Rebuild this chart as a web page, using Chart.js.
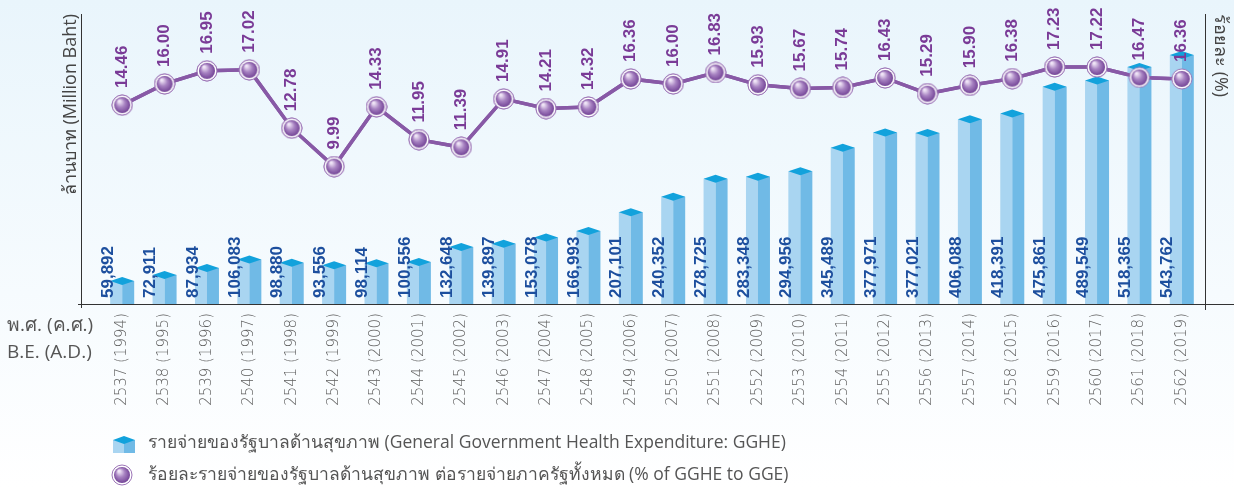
<!DOCTYPE html>
<html lang="th">
<head>
<meta charset="utf-8">
<title>GGHE</title>
<script src="https://cdn.jsdelivr.net/npm/chart.js@4.4.1/dist/chart.umd.min.js"></script>
<style>
    html, body { margin: 0; padding: 0; }
    body {
        width: 1234px;
        height: 487px;
        overflow: hidden;
        background: linear-gradient(to bottom, #e9f5fc 0%, #f6fbfe 60%, #ffffff 100%);
    }
    #wrap { width: 1234px; height: 487px; }
</style>
</head>
<body>
<div id="wrap"><canvas id="gghe" width="1234" height="487"></canvas></div>
<script>
// Datos
const categories = [
    '2537 (1994)', '2538 (1995)', '2539 (1996)', '2540 (1997)', '2541 (1998)', '2542 (1999)',
    '2543 (2000)', '2544 (2001)', '2545 (2002)', '2546 (2003)', '2547 (2004)', '2548 (2005)',
    '2549 (2006)', '2550 (2007)', '2551 (2008)', '2552 (2009)', '2553 (2010)', '2554 (2011)',
    '2555 (2012)', '2556 (2013)', '2557 (2014)', '2558 (2015)', '2559 (2016)', '2560 (2017)',
    '2561 (2018)', '2562 (2019)'
];
const gghe = [
    59892, 72911, 87934, 106083, 98880, 93556, 98114, 100556, 132648, 139897, 153078, 166993,
    207101, 240352, 278725, 283348, 294956, 345489, 377971, 377021, 406088, 418391, 475861,
    489549, 518365, 543762
];
const ggheShare = [
    14.46, 16.00, 16.95, 17.02, 12.78, 9.99, 14.33, 11.95, 11.39, 14.91, 14.21, 14.32,
    16.36, 16.00, 16.83, 15.93, 15.67, 15.74, 16.43, 15.29, 15.90, 16.38, 17.23, 17.22,
    16.47, 16.36
];
const legendLabels = [
    'รายจ่ายของรัฐบาลด้านสุขภาพ (General Government Health Expenditure: GGHE)',
    'ร้อยละรายจ่ายของรัฐบาลด้านสุขภาพ ต่อรายจ่ายภาครัฐทั้งหมด (% of GGHE to GGE)'
];
const leftTitle = 'ล้านบาท (Million Baht)';
const rightTitle = 'ร้อยละ (%)';
const axisCaption = ['พ.ศ. (ค.ศ.)', 'B.E. (A.D.)'];

const FONT = "'Open Sans', 'Noto Sans', 'DejaVu Sans', sans-serif";
const NUM_FONT = "'Liberation Sans', Arial, sans-serif";

const BAR_W = 24;
const C_LEFT = '#a9d5f1';
const C_RIGHT = '#70bae6';
const C_TOP = '#12a2dc';

document.addEventListener('DOMContentLoaded', () => {
    initChart();
});

// esfera morada para los puntos
function makeSphere() {
    const c = document.createElement('canvas');
    c.width = 22; c.height = 22;
    const g = c.getContext('2d');
    g.beginPath();
    g.arc(11, 11, 10, 0, Math.PI * 2);
    g.fillStyle = '#ffffff';
    g.fill();
    g.lineWidth = 1;
    g.strokeStyle = '#9b74b6';
    g.stroke();
    const rg = g.createRadialGradient(8, 7, 1, 11, 11, 8.5);
    rg.addColorStop(0, '#efe4f6');
    rg.addColorStop(0.45, '#a883c2');
    rg.addColorStop(1, '#6f3f93');
    g.beginPath();
    g.arc(11, 11, 8, 0, Math.PI * 2);
    g.fillStyle = rg;
    g.fill();
    return c;
}

// tapa de la barra (rombo) y caras
function drawPrism(ctx, x, top, bottom, w) {
    const h = w / 2;
    ctx.fillStyle = C_LEFT;
    ctx.fillRect(x - h, top, h, bottom - top);
    ctx.fillStyle = C_RIGHT;
    ctx.fillRect(x, top, h, bottom - top);
    ctx.beginPath();
    ctx.moveTo(x - h, top);
    ctx.lineTo(x, top - 4);
    ctx.lineTo(x + h, top);
    ctx.lineTo(x, top + 4);
    ctx.closePath();
    ctx.fillStyle = C_TOP;
    ctx.fill();
}

function initChart() {
    const ctx = document.getElementById('gghe');
    if (!ctx) return;
    const sphere = makeSphere();

    const decor = {
        id: 'decor',
        afterDatasetsDraw(chart) {
            const c = chart.ctx;
            const area = chart.chartArea;
            const bars = chart.getDatasetMeta(0).data;
            const pts = chart.getDatasetMeta(1).data;

            // barras 3D
            c.save();
            bars.forEach(b => drawPrism(c, b.x, b.y, b.base, BAR_W));
            c.restore();

            // linea y puntos encima
            chart.getDatasetMeta(1).controller.draw();

            // etiquetas de barras
            c.save();
            c.font = 'bold 17px ' + NUM_FONT;
            c.fillStyle = '#1d4f9e';
            c.textAlign = 'left';
            c.textBaseline = 'middle';
            bars.forEach((b, i) => {
                c.save();
                c.translate(b.x - 14, area.bottom - 6);
                c.rotate(-Math.PI / 2);
                c.fillText(gghe[i].toLocaleString('en-US'), 0, 0);
                c.restore();
            });
            // etiquetas de porcentaje
            c.fillStyle = '#7a3b97';
            pts.forEach((p, i) => {
                c.save();
                c.translate(p.x, p.y - 17);
                c.rotate(-Math.PI / 2);
                c.fillText(ggheShare[i].toFixed(2), 0, 0);
                c.restore();
            });
            c.restore();

            // ejes
            c.save();
            c.strokeStyle = '#333';
            c.lineWidth = 1;
            c.beginPath();
            c.moveTo(area.left - 19.5, area.top);
            c.lineTo(area.left - 19.5, area.bottom + 4);
            c.moveTo(area.left - 23, area.bottom + 0.5);
            c.lineTo(chart.width, area.bottom + 0.5);
            c.moveTo(area.right + 2.5, area.top);
            c.lineTo(area.right + 2.5, area.bottom + 6);
            c.stroke();
            c.restore();

            // titulos
            c.save();
            c.font = '18px ' + FONT;
            c.fillStyle = '#444';
            c.textBaseline = 'middle';
            c.save();
            c.translate(71, area.top);
            c.rotate(-Math.PI / 2);
            c.textAlign = 'right';
            c.fillText(leftTitle, 0, 0);
            c.restore();
            c.save();
            c.translate(1220, area.top);
            c.rotate(Math.PI / 2);
            c.textAlign = 'left';
            c.fillText(rightTitle, 0, 0);
            c.restore();

            c.font = '19px ' + FONT;
            c.fillStyle = '#555';
            c.textAlign = 'left';
            c.fillText(axisCaption[0], 7, 326);
            c.fillText(axisCaption[1], 7, 353);

            // leyenda
            c.font = '17.5px ' + FONT;
            drawPrism(c, 124, 440, 453, 22);
            c.fillStyle = '#555';
            c.fillText(legendLabels[0], 148, 443);
            c.drawImage(sphere, 111, 464);
            c.fillStyle = '#555';
            c.fillText(legendLabels[1], 148, 475);
            c.restore();
        }
    };

    new Chart(ctx, {
        data: {
            labels: categories,
            datasets: [
                {
                    type: 'bar',
                    label: legendLabels[0],
                    data: gghe,
                    yAxisID: 'y',
                    base: 10700,
                    barThickness: BAR_W,
                    backgroundColor: 'rgba(0,0,0,0)',
                    order: 2
                },
                {
                    type: 'line',
                    label: legendLabels[1],
                    data: ggheShare,
                    yAxisID: 'y1',
                    borderColor: '#8859a6',
                    borderWidth: 3.5,
                    pointStyle: sphere,
                    tension: 0,
                    order: 1
                }
            ]
        },
        options: {
            responsive: false,
            animation: false,
            devicePixelRatio: 1,
            layout: { padding: { left: 101, right: 31, top: 14, bottom: 0 } },
            plugins: {
                legend: { display: false },
                tooltip: { enabled: false }
            },
            scales: {
                x: {
                    grid: { display: false, drawTicks: false },
                    border: { display: false },
                    ticks: {
                        autoSkip: false,
                        minRotation: 90,
                        maxRotation: 90,
                        padding: 9,
                        color: '#5e5e5e',
                        font: { family: "'DejaVu Sans', sans-serif", size: 15, weight: 200 }
                    },
                    afterFit(scale) { scale.height = 183; }
                },
                y: { display: false, min: 10700, max: 631700 },
                y1: { display: false, position: 'right', min: 0, max: 21.08 }
            }
        },
        plugins: [decor]
    });
}
</script>
</body>
</html>
